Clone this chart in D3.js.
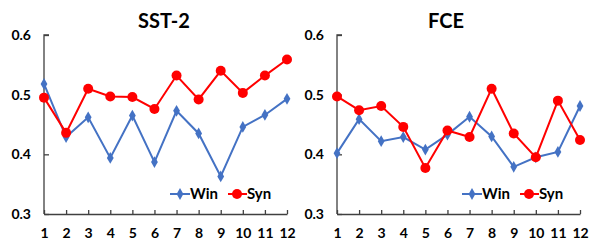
<!DOCTYPE html>
<html>
<head>
<meta charset="utf-8">
<script src="https://cdn.jsdelivr.net/npm/d3@7"></script>
<style>
  body { margin: 0; background: #fff; }
  svg { display: block; font-family: Lato, "Open Sans", sans-serif; font-weight: bold; }
</style>
</head>
<body>
<svg width="592" height="240"></svg>
<script>
const layers = [1, 2, 3, 4, 5, 6, 7, 8, 9, 10, 11, 12];
const yTicks = [0.3, 0.4, 0.5, 0.6];

const sstWin = [0.518, 0.429, 0.462, 0.394, 0.465, 0.387, 0.473, 0.435, 0.363, 0.446, 0.466, 0.493];
const sstSyn = [0.495, 0.436, 0.510, 0.497, 0.496, 0.476, 0.532, 0.492, 0.540, 0.503, 0.532, 0.559];
const fceWin = [0.402, 0.459, 0.422, 0.429, 0.408, 0.433, 0.463, 0.430, 0.379, 0.395, 0.404, 0.481];
const fceSyn = [0.497, 0.474, 0.481, 0.446, 0.377, 0.440, 0.429, 0.510, 0.435, 0.395, 0.490, 0.424];

const blue = "#4472C4", red = "#FF0000", axisColor = "#404040";

const svg = d3.select("svg");

const panels = [
  {title: "SST-2", win: sstWin, syn: sstSyn, left: 44, right: 287, titleX: 164, legendX: 170},
  {title: "FCE", win: fceWin, syn: fceSyn, left: 337, right: 580, titleX: 446, legendX: 462}
];

const plotTop = 35, plotBottom = 214;

panels.forEach(p => {
  const x = d3.scaleLinear().domain([1, 12]).range([p.left, p.right]);
  const y = d3.scaleLinear().domain([0.3, 0.6]).range([plotBottom, plotTop]);
  const g = svg.append("g");

  // title
  g.append("text")
    .attr("x", p.titleX)
    .attr("y", 28)
    .attr("text-anchor", "middle")
    .attr("font-size", "20px")
    .text(p.title);

  // y axis
  const yAxis = g.append("g")
    .attr("transform", `translate(${p.left},0)`)
    .call(d3.axisRight(y).tickValues(yTicks).tickSize(5).tickFormat(d3.format(".1f")));
  yAxis.select(".domain").attr("stroke", axisColor).attr("stroke-width", 1.3).attr("d", `M5,${plotTop}H0V${plotBottom}`);
  yAxis.selectAll(".tick line").attr("stroke", axisColor).attr("stroke-width", 1.3);
  yAxis.selectAll(".tick text")
    .attr("x", -13).attr("text-anchor", "end")
    .attr("font-size", "14px").attr("font-family", "Lato, sans-serif").attr("font-weight", "bold").attr("fill", "#000");

  // x axis
  const xAxis = g.append("g")
    .attr("transform", `translate(0,${plotBottom})`)
    .call(d3.axisTop(x).tickValues(layers).tickSize(4).tickSizeOuter(0));
  xAxis.select(".domain").attr("stroke", axisColor).attr("stroke-width", 1.3);
  xAxis.selectAll(".tick line").attr("stroke", axisColor).attr("stroke-width", 1.3);
  xAxis.selectAll(".tick text")
    .attr("y", 24).attr("dy", 0)
    .attr("font-size", "14px").attr("font-family", "Lato, sans-serif").attr("font-weight", "bold").attr("fill", "#000");

  const line = d3.line().x((d, i) => x(layers[i])).y(d => y(d));

  // Win series
  g.append("path").datum(p.win)
    .attr("d", line).attr("fill", "none").attr("stroke", blue).attr("stroke-width", 2);
  g.selectAll(".win").data(p.win).enter().append("path")
    .attr("class", "win")
    .attr("transform", (d, i) => `translate(${x(layers[i])},${y(d)})`)
    .attr("d", d3.symbol(d3.symbolDiamond, 40))
    .attr("fill", blue);

  // Syn series
  g.append("path").datum(p.syn)
    .attr("d", line).attr("fill", "none").attr("stroke", red).attr("stroke-width", 2);
  g.selectAll(".syn").data(p.syn).enter().append("circle")
    .attr("class", "syn")
    .attr("cx", (d, i) => x(layers[i]))
    .attr("cy", d => y(d))
    .attr("r", 5)
    .attr("fill", red);

  // legend
  const ly = 194;
  const lx = p.legendX;
  g.append("line").attr("x1", lx).attr("x2", lx + 20).attr("y1", ly).attr("y2", ly)
    .attr("stroke", blue).attr("stroke-width", 2);
  g.append("path").attr("transform", `translate(${lx + 10},${ly})`)
    .attr("d", d3.symbol(d3.symbolDiamond, 40)).attr("fill", blue);
  g.append("text").attr("x", lx + 20).attr("y", ly + 5).attr("font-size", "15px").text("Win");

  g.append("line").attr("x1", lx + 58).attr("x2", lx + 77).attr("y1", ly).attr("y2", ly)
    .attr("stroke", red).attr("stroke-width", 2);
  g.append("circle").attr("cx", lx + 67).attr("cy", ly).attr("r", 5).attr("fill", red);
  g.append("text").attr("x", lx + 77).attr("y", ly + 5).attr("font-size", "15px").text("Syn");
});
</script>
</body>
</html>
